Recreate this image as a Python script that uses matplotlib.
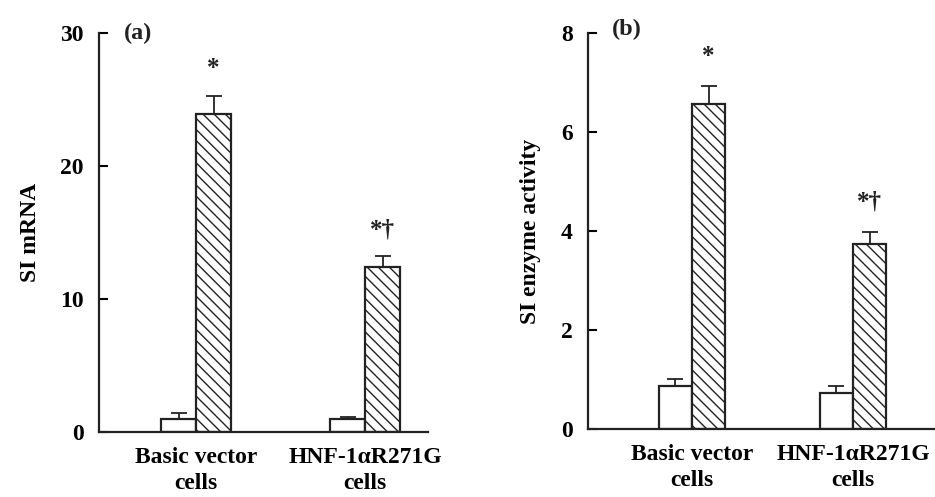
import numpy as np
import matplotlib
matplotlib.use("Agg")
import matplotlib.pyplot as plt

plt.rcParams['font.family'] = ['Liberation Serif', 'DejaVu Serif']
plt.rcParams['font.weight'] = 'bold'
plt.rcParams['hatch.linewidth'] = 1.0

# categories
groups = ['Basic vector\ncells', 'HNF-1\u03b1R271G\ncells']

# panel (a): SI mRNA
mrna_open = [1.0, 1.0]
mrna_open_err = [0.4, 0.1]
mrna_hatch = [23.9, 12.4]
mrna_hatch_err = [1.4, 0.8]
mrna_marks = ['*', '*\u2020']

# panel (b): SI enzyme activity
enz_open = [0.87, 0.73]
enz_open_err = [0.14, 0.14]
enz_hatch = [6.57, 3.73]
enz_hatch_err = [0.36, 0.26]
enz_marks = ['*', '*\u2020']

fig = plt.figure(figsize=(9.35, 4.97), dpi=100)
ax1 = fig.add_axes([0.1059, 0.1308, 0.352, 0.8028])
ax2 = fig.add_axes([0.6289, 0.1368, 0.3711, 0.7968])

x = np.array([1.0, 2.0])
w = 0.207
fs = 17


def draw_panel(ax, opn, opn_err, hat, hat_err, marks, ymax, yticks, ylabel, tag, xlim, mark_off):
    ax.bar(x - w / 2, opn, w, color='white', edgecolor='#222222', linewidth=1.6, zorder=2)
    ax.bar(x + w / 2, hat, w, color='white', edgecolor='#222222', linewidth=1.6,
           hatch='\\\\\\', zorder=2)
    ax.errorbar(x - w / 2, opn, yerr=[np.zeros(2), opn_err], fmt='none',
                ecolor='#222222', elinewidth=1.3, capsize=6, capthick=1.3, zorder=1)
    ax.errorbar(x + w / 2, hat, yerr=[np.zeros(2), hat_err], fmt='none',
                ecolor='#222222', elinewidth=1.3, capsize=6, capthick=1.3, zorder=1)
    for xi, h, e, m in zip(x, hat, hat_err, marks):
        ax.text(xi + w / 2, h + e + mark_off, m, ha='center', va='center',
                fontsize=fs + 1, fontweight='bold', color='#222222')

    ax.set_xlim(*xlim)
    ax.set_ylim(0, ymax)
    ax.set_yticks(yticks)
    ax.set_yticklabels([str(t) for t in yticks], fontsize=fs, fontweight='bold')
    ax.set_xticks(x)
    ax.set_xticklabels(groups, fontsize=fs, fontweight='bold', linespacing=1.3)
    ax.tick_params(axis='x', length=0, pad=11)
    ax.tick_params(axis='y', direction='in', length=6.5, width=1.5, pad=11)
    for s in ['top', 'right']:
        ax.spines[s].set_visible(False)
    for s in ['left', 'bottom']:
        ax.spines[s].set_linewidth(1.6)
        ax.spines[s].set_color('#222222')
    ax.set_ylabel(ylabel, fontsize=fs, fontweight='bold', labelpad=14)
    ax.text(0.075, 1.0, tag, transform=ax.transAxes, fontsize=17.5, fontweight='bold',
            ha='left', va='center', color='#222222')


draw_panel(ax1, mrna_open, mrna_open_err, mrna_hatch, mrna_hatch_err, mrna_marks,
           30, [0, 10, 20, 30], 'SI mRNA', '(a)', (0.426, 2.373), 2.0)
draw_panel(ax2, enz_open, enz_open_err, enz_hatch, enz_hatch_err, enz_marks,
           8, [0, 2, 4, 6, 8], 'SI enzyme activity', '(b)', (0.354, 2.51), 0.6)
ax2.texts[-1].set_position((0.07, 1.01))

fig.savefig('out.png', dpi=100)
